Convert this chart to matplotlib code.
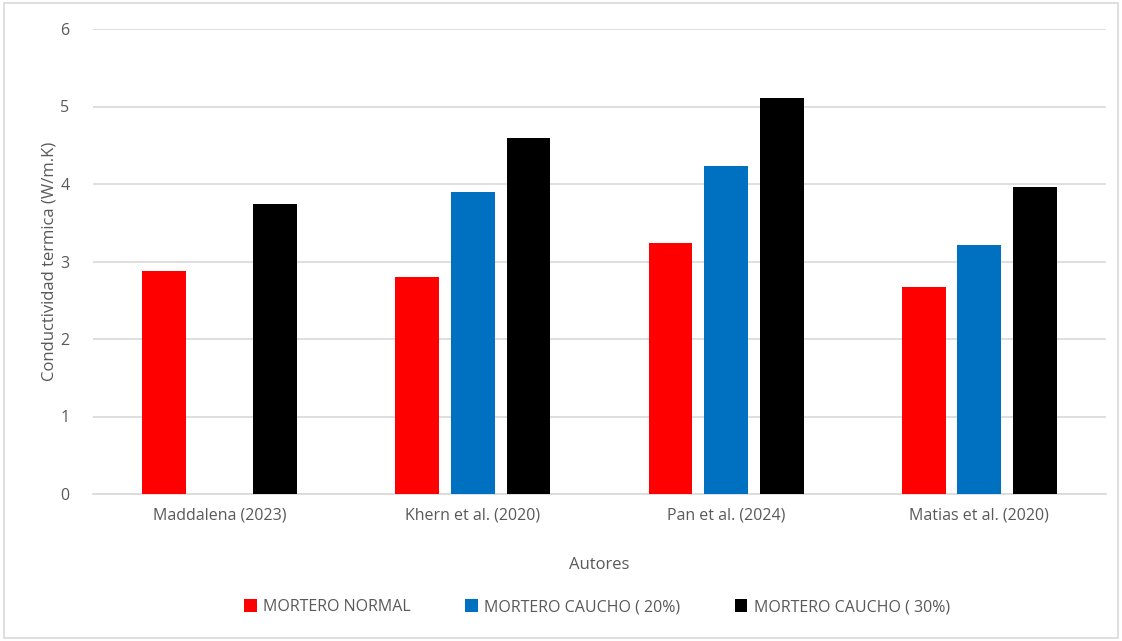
import matplotlib
matplotlib.use("Agg")
import matplotlib.pyplot as plt
import numpy as np
from matplotlib.patches import Rectangle

plt.rcParams['font.family'] = ['Open Sans', 'DejaVu Sans']

categories = ["Maddalena (2023)", "Khern et al. (2020)", "Pan et al. (2024)", "Matias et al. (2020)"]
series_names = ["MORTERO NORMAL", "MORTERO CAUCHO ( 20%)", "MORTERO CAUCHO ( 30%)"]
normal = [2.88, 2.80, 3.24, 2.67]
caucho20 = [np.nan, 3.90, 4.23, 3.21]
caucho30 = [3.74, 4.59, 5.11, 3.96]
colors = ["#FF0000", "#0070C0", "#000000"]

fig = plt.figure(figsize=(11.22, 6.41), dpi=100)
ax = fig.add_axes([93/1122, 1 - 494/641, (1106 - 93)/1122, (494 - 29)/641])

x = np.arange(len(categories))
width = 0.173
step = 0.22
for i, (vals, c, name) in enumerate(zip([normal, caucho20, caucho30], colors, series_names)):
    ax.bar(x + (i - 1) * step, vals, width=width, color=c, label=name, zorder=3)

ax.set_ylim(0, 6)
ax.set_xlim(-0.5, len(categories) - 0.5)
ax.set_yticks(range(0, 7))
ax.yaxis.grid(True, color="#D9D9D9", linewidth=1.2, zorder=0)
ax.set_axisbelow(True)
for s in ["top", "right", "left"]:
    ax.spines[s].set_visible(False)
ax.spines["bottom"].set_color("#D9D9D9")
ax.spines["bottom"].set_linewidth(1.2)
ax.tick_params(axis="y", length=0, labelsize=11.5, labelcolor="#595959", pad=17)
ax.tick_params(axis="x", length=0, labelsize=11.5, labelcolor="#595959", pad=10)
ax.set_xticks(x)
ax.set_xticklabels(categories)
ax.set_ylabel("Conductividad termica (W/m.K)", fontsize=12, color="#595959", labelpad=2)
ax.set_xlabel("Autores", fontsize=12, color="#595959", labelpad=24)

leg = fig.legend(loc="center", bbox_to_anchor=(0.532, 1 - 607/641), ncol=3, frameon=False,
                 fontsize=11.5, handlelength=0.8, handleheight=0.8, columnspacing=3.4,
                 handletextpad=0.4)
for t in leg.get_texts():
    t.set_color("#595959")

fig.patches.append(Rectangle((0.004, 0.004), 0.992, 0.992, transform=fig.transFigure,
                             fill=False, edgecolor="#D9D9D9", linewidth=1.2))

fig.savefig("out.png", dpi=100)
